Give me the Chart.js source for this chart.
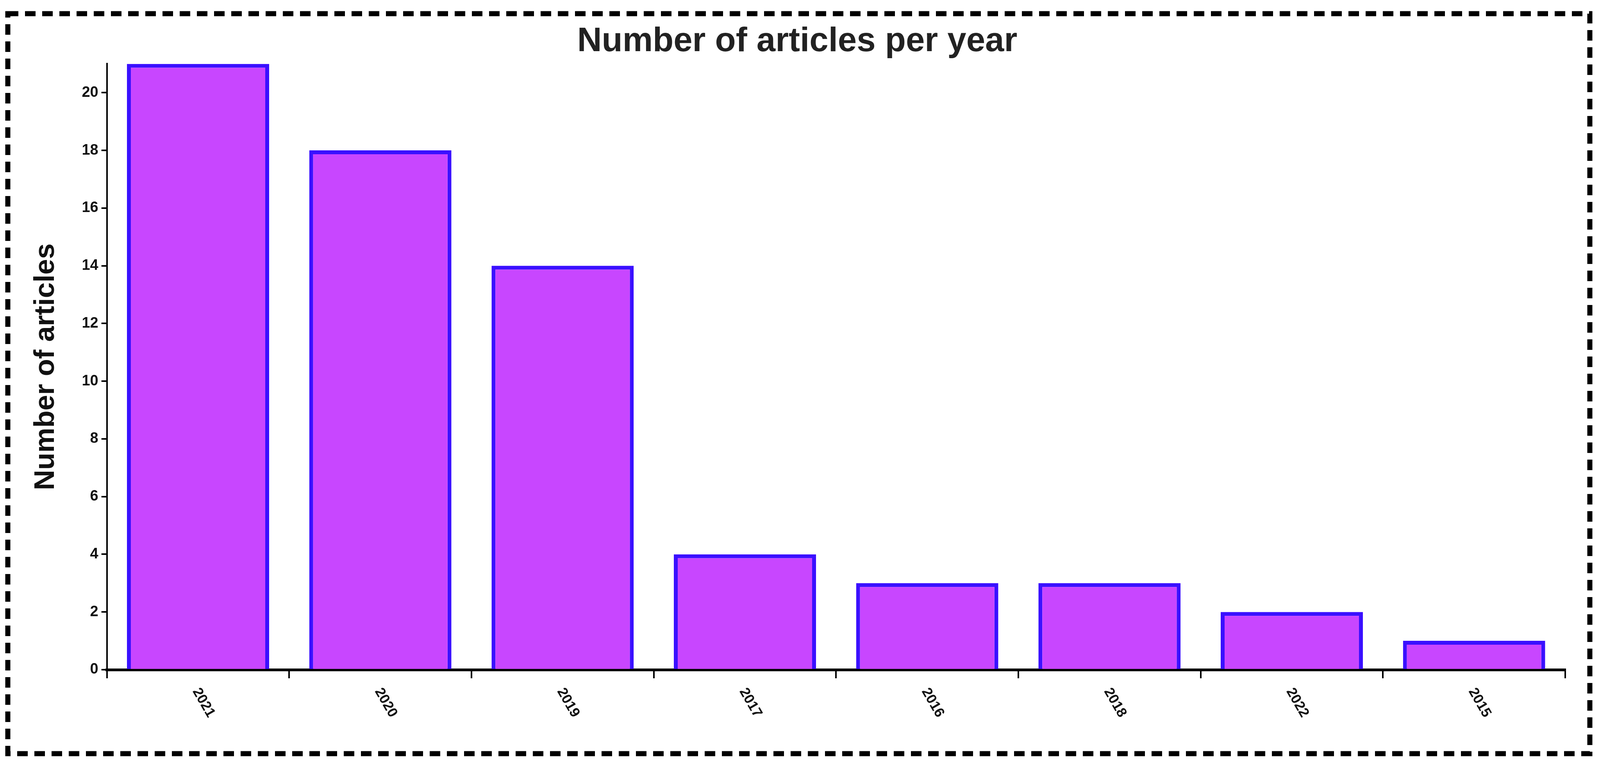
<!DOCTYPE html>
<html>
<head>
<meta charset="utf-8">
<script src="https://cdn.jsdelivr.net/npm/chart.js@4"></script>
<style>
  html, body { margin: 0; padding: 0; background: #fff; overflow: hidden; }
  #wrap { position: fixed; left: 0; top: 0; width: 100vw; height: 100vh; }
</style>
</head>
<body>
<div id="wrap"><canvas id="grafica"></canvas></div>
<script>
const anios = ['2021', '2020', '2019', '2017', '2016', '2018', '2022', '2015'];
const articulos = [21, 18, 14, 4, 3, 3, 2, 1];
const ticksY = [0, 2, 4, 6, 8, 10, 12, 14, 16, 18, 20];

// marco discontinuo y etiquetas giradas hacia abajo
const marcoPlugin = {
    id: 'marco',
    afterDraw(chart) {
        const ctx = chart.ctx;
        const w = chart.width, h = chart.height;
        ctx.save();
        ctx.strokeStyle = '#000';
        ctx.lineWidth = 13;
        ctx.setLineDash([27, 17]);
        ctx.strokeRect(20, 35, w - 46, h - 82);
        ctx.restore();

        const xs = chart.scales.x;
        ctx.save();
        ctx.font = 'bold 36px "Liberation Sans Narrow", "Liberation Sans", sans-serif';
        ctx.fillStyle = '#111';
        ctx.textBaseline = 'middle';
        anios.forEach((a, i) => {
            const px = xs.getPixelForTick(i);
            ctx.save();
            ctx.translate(px - 6, xs.top + 50);
            ctx.rotate(Math.PI / 3);
            ctx.fillText(a, 0, 0);
            ctx.restore();
        });
        ctx.restore();
    }
};

new Chart(document.getElementById('grafica'), {
    type: 'bar',
    data: {
        labels: anios,
        datasets: [{
            label: 'Number of articles',
            data: articulos,
            backgroundColor: '#c846ff',
            borderColor: '#3a10ff',
            borderWidth: 10,
            categoryPercentage: 0.78,
            barPercentage: 1
        }]
    },
    options: {
        responsive: true,
        maintainAspectRatio: false,
        animation: false,
        layout: { padding: { left: 75, right: 89, top: 0, bottom: 240 } },
        plugins: {
            legend: { display: false },
            tooltip: { enabled: false },
            title: {
                display: true,
                text: 'Number of articles per year',
                color: '#222',
                font: { size: 87, weight: 'bold', family: '"Liberation Sans", Arial, sans-serif' },
                padding: { top: 55, bottom: 4 }
            }
        },
        scales: {
            x: {
                grid: { drawOnChartArea: false, drawTicks: true, tickLength: 22, color: '#000', lineWidth: 4 },
                border: { color: '#000', width: 7 },
                ticks: { display: false }
            },
            y: {
                min: 0,
                max: 21,
                afterBuildTicks: scale => { scale.ticks = ticksY.map(v => ({ value: v })); },
                grid: { drawOnChartArea: false, drawTicks: true, tickLength: 14, color: '#000', lineWidth: 4 },
                border: { color: '#000', width: 4 },
                ticks: {
                    color: '#111',
                    padding: 8,
                    font: { size: 38, weight: 'bold', family: '"Liberation Sans Narrow", "Liberation Sans", sans-serif' }
                },
                title: {
                    display: true,
                    text: 'Number of articles',
                    color: '#111',
                    font: { size: 72, weight: 'bold', family: '"Liberation Sans", Arial, sans-serif' },
                    padding: { top: 0, bottom: 40 }
                }
            }
        }
    },
    plugins: [marcoPlugin]
});
</script>
</body>
</html>
